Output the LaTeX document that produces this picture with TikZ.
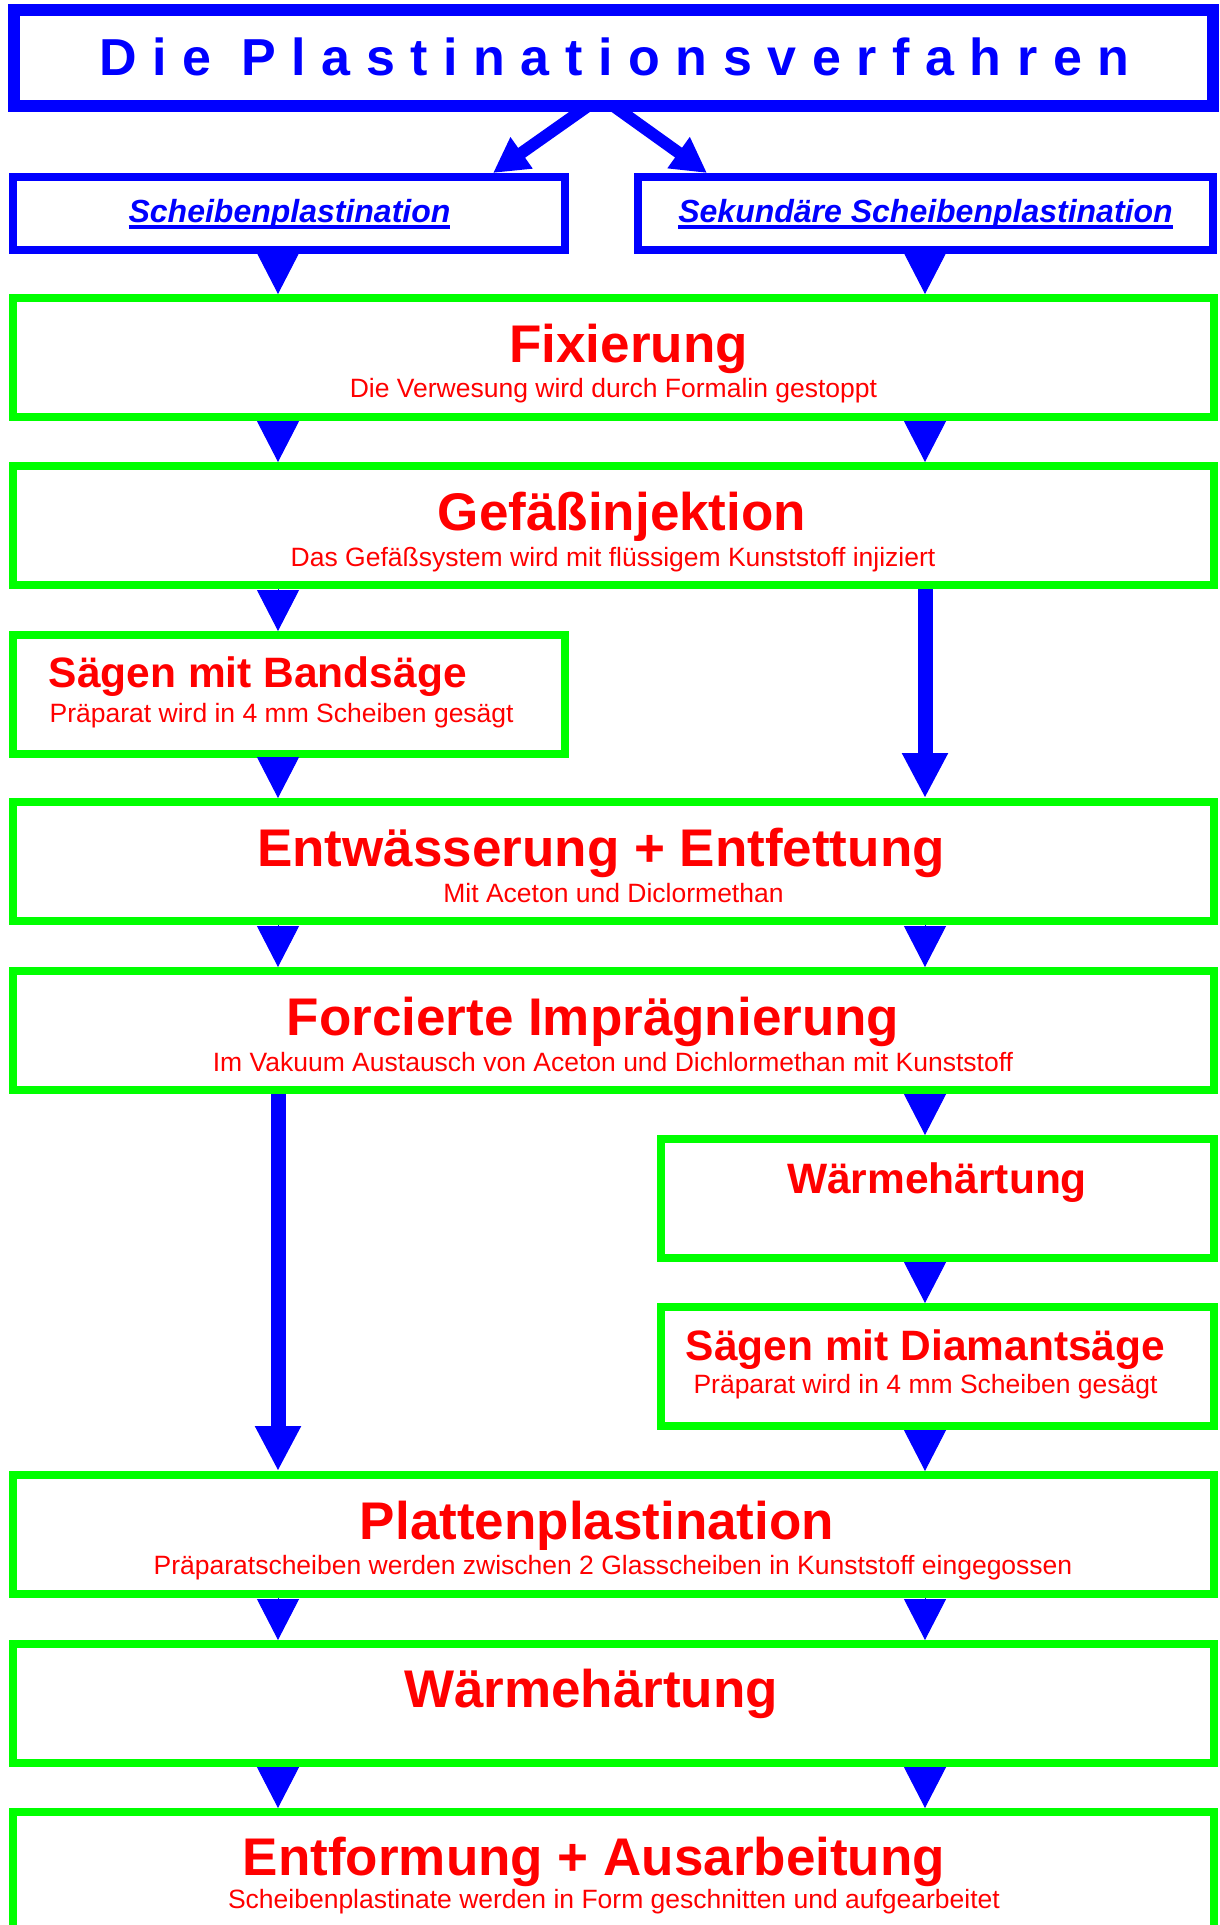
\documentclass[tikz,border=0pt]{standalone}
\usepackage{fontspec}
\setmainfont{Liberation Sans}
\newfontfamily\spacedfont[LetterSpace=30]{Liberation Sans}
\usetikzlibrary{arrows.meta,calc}
\definecolor{pblue}{RGB}{0,0,255}
\definecolor{pgreen}{RGB}{0,255,0}
\definecolor{pred}{RGB}{255,0,0}
\newcommand\bul[1]{\setbox0\hbox{#1}\rlap{\rule[-7pt]{\wd0}{4pt}}\box0}
\begin{document}
\begin{tikzpicture}[x=1pt,y=-1pt,
  gbox/.style={draw=pgreen, line width=8pt, fill=white, minimum width=1201pt, minimum height=119pt, inner sep=0pt},
  hbox/.style={gbox, minimum width=553pt},
  bbox/.style={draw=pblue, line width=8pt, fill=white, minimum height=73pt, inner sep=0pt},
  big/.style={text=pred, font=\bfseries\fontsize{53}{60}\selectfont, anchor=base, inner sep=0pt},
  mid/.style={text=pred, font=\bfseries\fontsize{42.5}{50}\selectfont, anchor=base, inner sep=0pt},
  sub/.style={text=pred, font=\fontsize{26.5}{30}\selectfont, anchor=base, inner sep=0pt},
  link/.style={text=pblue, font=\bfseries\itshape\fontsize{32}{36}\selectfont, anchor=base, inner sep=0pt},
  tri/.style={draw=pblue, line width=1pt, -{Triangle[length=41pt,width=42pt]}},
  longarr/.style={draw=pblue, line width=15pt, -{Triangle[length=45pt,width=43pt]}},
  diag/.style={draw=pblue, line width=12pt, -{Triangle[length=35pt,width=36pt]}}]
\useasboundingbox (0,0) rectangle (1219,1925);
\clip (0,0) rectangle (1219,1925);
\fill[white] (0,0) rectangle (1219,1925);
\coordinate (colL) at (278,0);
\coordinate (colR) at (925,0);

% title
\node[draw=pblue, line width=12pt, minimum width=1199pt, minimum height=96pt, inner sep=0pt] (title) at (613.5,58) {};
\node[anchor=base west, inner sep=0pt, text=pblue, font=\spacedfont\bfseries\fontsize{52}{60}\selectfont] (titleT) at (98.9,75) {Die Plastinationsverfahren};

% blue boxes
\node[bbox, minimum width=552pt] (sch) at (289,213.5) {};
\node[bbox, minimum width=575pt] (sek) at (925.5,213.5) {};
\node[link] (schT) at (289.5,222) {\bul{Scheibenplastination}};
\node[link] (sekT) at (925.5,222) {\bul{Sekundäre Scheibenplastination}};

% green boxes
\node[gbox] (fix) at (613.5,357.5) {};
\node[gbox] (gef) at (613.5,525.5) {};
\node[gbox, minimum width=552pt] (band) at (289,694.5) {};
\node[gbox] (entw) at (613.5,861.5) {};
\node[gbox] (forc) at (613.5,1030.5) {};
\node[hbox] (warm1) at (937.5,1198.5) {};
\node[hbox] (diam) at (937.5,1366.5) {};
\node[gbox] (plat) at (613.5,1534.5) {};
\node[gbox] (warm2) at (613.5,1703.5) {};
\node[gbox] (entf) at (613.5,1871.5) {};

% texts
\node[big] (fixT) at (628.5,362) {Fixierung};
\node[sub] (fixS) at (613.5,397) {Die Verwesung wird durch Formalin gestoppt};
\node[big] (gefT) at (622,530) {Gefäßinjektion};
\node[sub] (gefS) at (613,566) {Das Gefäßsystem wird mit flüssigem Kunststoff injiziert};
\node[mid, anchor=base west] (bandT) at (48.5,687) {Sägen mit Bandsäge};
\node[sub, anchor=base west] (bandS) at (49.5,722) {Präparat wird in 4 mm Scheiben gesägt};
\node[big] (entwT) at (601,866) {Entwässerung + Entfettung};
\node[sub] (entwS) at (613.5,902) {Mit Aceton und Diclormethan};
\node[big] (forcT) at (593,1035) {Forcierte Imprägnierung};
\node[sub] (forcS) at (613,1071) {Im Vakuum Austausch von Aceton und Dichlormethan mit Kunststoff};
\node[mid] (warm1T) at (937,1193) {Wärmehärtung};
\node[mid] (diamT) at (925.5,1360) {Sägen mit Diamantsäge};
\node[sub] (diamS) at (925.5,1393) {Präparat wird in 4 mm Scheiben gesägt};
\node[big] (platT) at (597,1539) {Plattenplastination};
\node[sub] (platS) at (613,1574) {Präparatscheiben werden zwischen 2 Glasscheiben in Kunststoff eingegossen};
\node[big] (warm2T) at (591,1707) {Wärmehärtung};
\node[big] (entfT) at (594,1875) {Entformung + Ausarbeitung};
\node[sub] (entfS) at (614,1908) {Scheibenplastinate werden in Form geschnitten und aufgearbeitet};

% connectors
\draw[diag] ($(title.south)+(-25.5,-6)$) -- ($(sch.north east)+(-76,0)$);
\draw[diag] ($(title.south)+(0,-6)$) -- ($(sek.north west)+(73,0)$);
\draw[tri] (sch.south -| colL) -- (fix.north -| colL);
\draw[tri] (sek.south -| colR) -- (fix.north -| colR);
\draw[tri] (fix.south -| colL) -- (gef.north -| colL);
\draw[tri] (fix.south -| colR) -- (gef.north -| colR);
\draw[tri] (gef.south -| colL) -- (band.north -| colL);
\draw[longarr] (gef.south -| colR) -- (entw.north -| colR);
\draw[tri] (band.south -| colL) -- (entw.north -| colL);
\draw[tri] (entw.south -| colL) -- (forc.north -| colL);
\draw[tri] (entw.south -| colR) -- (forc.north -| colR);
\draw[longarr] (forc.south -| colL) -- (plat.north -| colL);
\draw[tri] (forc.south -| colR) -- (warm1.north -| colR);
\draw[tri] (warm1.south -| colR) -- (diam.north -| colR);
\draw[tri] (diam.south -| colR) -- (plat.north -| colR);
\draw[tri] (plat.south -| colL) -- (warm2.north -| colL);
\draw[tri] (plat.south -| colR) -- (warm2.north -| colR);
\draw[tri] (warm2.south -| colL) -- (entf.north -| colL);
\draw[tri] (warm2.south -| colR) -- (entf.north -| colR);
\end{tikzpicture}
\end{document}
